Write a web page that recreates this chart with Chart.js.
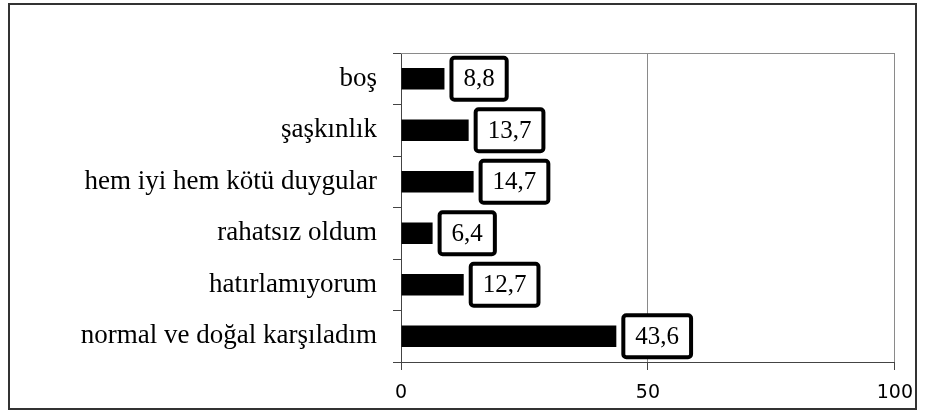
<!DOCTYPE html>
<html>
<head>
<meta charset="utf-8">
<script src="https://cdn.jsdelivr.net/npm/chart.js@4"></script>
<style>
  html, body { margin: 0; padding: 0; background: #fff; }
  #wrap { width: 925px; height: 416px; position: relative; }
</style>
</head>
<body>
<div id="wrap"><canvas id="chart"></canvas></div>
<script>
const categories = [
  "boş",
  "şaşkınlık",
  "hem iyi hem kötü duygular",
  "rahatsız oldum",
  "hatırlamıyorum",
  "normal ve doğal karşıladım",
];
const values = [8.8, 13.7, 14.7, 6.4, 12.7, 43.6];
const xTicks = [0, 50, 100];

const fmt = (v) => v.toFixed(1).replace(".", ",");

// outer frame + top edge of the plot area
const framePlugin = {
  id: "frame",
  beforeDraw: (chart) => {
    const { ctx } = chart;
    ctx.save();
    ctx.fillStyle = "#fff";
    ctx.fillRect(0, 0, chart.width, chart.height);
    ctx.strokeStyle = "#333";
    ctx.lineWidth = 2;
    ctx.strokeRect(9, 4, 907, 405);
    ctx.restore();
  },
  afterDatasetsDraw: (chart) => {
    const { ctx, chartArea } = chart;
    ctx.save();
    ctx.strokeStyle = "#8a8a8a";
    ctx.lineWidth = 1;
    ctx.beginPath();
    ctx.moveTo(chartArea.left, chartArea.top + 0.5);
    ctx.lineTo(chartArea.right, chartArea.top + 0.5);
    ctx.stroke();
    ctx.restore();
  },
};

// boxed value labels next to the bars
const boxLabels = {
  id: "boxLabels",
  afterDatasetsDraw: (chart) => {
    const { ctx } = chart;
    const meta = chart.getDatasetMeta(0);
    ctx.save();
    ctx.font = "25px 'Liberation Serif'";
    ctx.textBaseline = "middle";
    ctx.textAlign = "center";
    meta.data.forEach((bar, i) => {
      const txt = fmt(values[i]);
      const w = ctx.measureText(txt).width + 24;
      const h = 42;
      const x = bar.x + 7;
      const y = bar.y - h / 2;
      ctx.beginPath();
      ctx.roundRect(x, y, w, h, 3);
      ctx.fillStyle = "#fff";
      ctx.fill();
      ctx.lineWidth = 4;
      ctx.strokeStyle = "#000";
      ctx.stroke();
      ctx.fillStyle = "#000";
      ctx.fillText(txt, x + w / 2, bar.y + 1);
    });
    ctx.restore();
  },
};

new Chart(document.getElementById("chart"), {
  type: "bar",
  data: {
    labels: categories,
    datasets: [
      {
        data: values,
        backgroundColor: "#000",
        borderWidth: 0,
        barPercentage: 0.42,
        categoryPercentage: 1,
      },
    ],
  },
  options: {
    indexAxis: "y",
    responsive: true,
    maintainAspectRatio: false,
    animation: false,
    layout: { padding: { top: 53, right: 27, bottom: 0, left: 0 } },
    plugins: {
      legend: { display: false },
      tooltip: { enabled: false },
    },
    scales: {
      x: {
        min: 0,
        max: 100,
        afterBuildTicks: (scale) => {
          scale.ticks = xTicks.map((v) => ({ value: v }));
        },
        afterFit: (scale) => {
          scale.height = 54;
        },
        grid: {
          color: "#8a8a8a",
          tickColor: "#444",
          tickLength: 8,
          drawOnChartArea: true,
        },
        border: { color: "#444", width: 1 },
        ticks: {
          color: "#000",
          font: { family: "'DejaVu Sans'", size: 19 },
          padding: 12,
          maxRotation: 0,
        },
      },
      y: {
        afterFit: (scale) => {
          scale.width = 401;
        },
        grid: {
          drawOnChartArea: false,
          tickColor: "#444",
          tickLength: 8,
          offset: true,
        },
        border: { color: "#444", width: 1 },
        ticks: {
          color: "#000",
          font: { family: "'Liberation Serif'", size: 27 },
          padding: 16,
        },
      },
    },
  },
  plugins: [framePlugin, boxLabels],
});
</script>
</body>
</html>
